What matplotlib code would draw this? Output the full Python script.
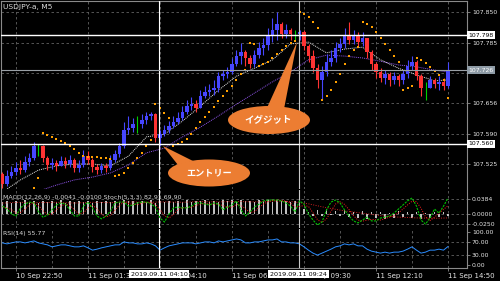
import matplotlib
matplotlib.use("Agg")
import numpy as np
import matplotlib.pyplot as plt
from matplotlib.patches import Ellipse, Polygon
from matplotlib.transforms import blended_transform_factory

plt.rcParams['font.family'] = ['DejaVu Sans']

# USDJPY-a, 10 minute bars (10 Sep 22:20 .. 11 Sep 14:50)
bar_opens = [107.504, 107.482, 107.499, 107.508, 107.516, 107.512, 107.529, 107.538, 107.564, 107.564,
             107.538, 107.523, 107.527, 107.521, 107.531, 107.525, 107.534, 107.516, 107.523, 107.542,
             107.534, 107.519, 107.512, 107.521, 107.516, 107.534, 107.546, 107.564, 107.598, 107.602,
             107.611, 107.611, 107.619, 107.628, 107.632, 107.581, 107.589, 107.598, 107.606, 107.615,
             107.623, 107.636, 107.649, 107.653, 107.645, 107.671, 107.679, 107.683, 107.688, 107.713,
             107.718, 107.722, 107.739, 107.756, 107.765, 107.752, 107.739, 107.758, 107.773, 107.780,
             107.799, 107.812, 107.825, 107.803, 107.812, 107.803, 107.803, 107.808, 107.778, 107.756,
             107.730, 107.705, 107.722, 107.743, 107.752, 107.773, 107.782, 107.799, 107.790, 107.799,
             107.786, 107.795, 107.765, 107.739, 107.722, 107.709, 107.718, 107.705, 107.713, 107.705,
             107.718, 107.735, 107.743, 107.713, 107.688, 107.688, 107.705, 107.696, 107.701, 107.692]
bar_closes = [107.482, 107.499, 107.508, 107.516, 107.512, 107.529, 107.538, 107.564, 107.564, 107.538,
              107.523, 107.527, 107.521, 107.531, 107.525, 107.534, 107.516, 107.523, 107.542, 107.534,
              107.519, 107.512, 107.521, 107.516, 107.534, 107.546, 107.564, 107.598, 107.602, 107.611,
              107.611, 107.619, 107.628, 107.632, 107.581, 107.589, 107.598, 107.606, 107.615, 107.623,
              107.636, 107.649, 107.653, 107.645, 107.671, 107.679, 107.683, 107.688, 107.713, 107.718,
              107.722, 107.739, 107.756, 107.765, 107.752, 107.739, 107.758, 107.773, 107.780, 107.799,
              107.812, 107.825, 107.803, 107.812, 107.803, 107.803, 107.808, 107.778, 107.756, 107.730,
              107.705, 107.722, 107.743, 107.752, 107.773, 107.782, 107.799, 107.790, 107.799, 107.786,
              107.795, 107.765, 107.739, 107.722, 107.709, 107.718, 107.705, 107.713, 107.705, 107.718,
              107.735, 107.743, 107.713, 107.688, 107.688, 107.705, 107.696, 107.701, 107.692, 107.726]
bar_highs = [107.508, 107.512, 107.521, 107.529, 107.534, 107.542, 107.549, 107.572, 107.568, 107.566,
             107.542, 107.538, 107.534, 107.542, 107.540, 107.544, 107.538, 107.534, 107.555, 107.553,
             107.538, 107.525, 107.527, 107.527, 107.544, 107.555, 107.570, 107.615, 107.628, 107.623,
             107.628, 107.632, 107.636, 107.636, 107.634, 107.598, 107.608, 107.617, 107.628, 107.636,
             107.649, 107.662, 107.668, 107.662, 107.683, 107.692, 107.696, 107.705, 107.722, 107.726,
             107.733, 107.752, 107.769, 107.784, 107.769, 107.758, 107.769, 107.786, 107.795, 107.816,
             107.837, 107.850, 107.829, 107.825, 107.816, 107.812, 107.812, 107.812, 107.782, 107.769,
             107.739, 107.735, 107.760, 107.769, 107.786, 107.795, 107.816, 107.829, 107.812, 107.808,
             107.808, 107.795, 107.769, 107.743, 107.730, 107.726, 107.722, 107.722, 107.718, 107.726,
             107.748, 107.756, 107.748, 107.718, 107.701, 107.713, 107.709, 107.713, 107.709, 107.743]
bar_lows = [107.474, 107.478, 107.495, 107.501, 107.504, 107.508, 107.521, 107.534, 107.542, 107.529,
            107.512, 107.514, 107.510, 107.521, 107.516, 107.519, 107.508, 107.508, 107.519, 107.525,
            107.508, 107.504, 107.506, 107.508, 107.512, 107.529, 107.540, 107.559, 107.589, 107.594,
            107.591, 107.602, 107.611, 107.619, 107.572, 107.564, 107.585, 107.591, 107.602, 107.611,
            107.619, 107.632, 107.641, 107.636, 107.645, 107.666, 107.671, 107.673, 107.679, 107.705,
            107.709, 107.718, 107.735, 107.739, 107.735, 107.730, 107.733, 107.752, 107.758, 107.769,
            107.786, 107.790, 107.795, 107.795, 107.790, 107.790, 107.790, 107.769, 107.743, 107.722,
            107.688, 107.662, 107.713, 107.735, 107.743, 107.765, 107.773, 107.782, 107.782, 107.778,
            107.778, 107.752, 107.726, 107.709, 107.701, 107.696, 107.692, 107.696, 107.692, 107.696,
            107.709, 107.726, 107.705, 107.671, 107.662, 107.688, 107.688, 107.683, 107.683, 107.688]

# parabolic SAR dots
sar = [107.437, 107.442, 107.448, 107.452, 107.457, 107.461, 107.465, 107.474, 107.495, 107.591,
       107.587, 107.583, 107.579, 107.574, 107.570, 107.564, 107.557, 107.549, 107.542, 107.540,
       107.540, 107.540, 107.538, 107.538, 107.536, 107.499, 107.501, 107.506, 107.516, 107.527,
       107.538, 107.549, 107.564, 107.576, 107.653, 107.645, 107.634, 107.623, 107.564, 107.568,
       107.572, 107.579, 107.589, 107.602, 107.615, 107.626, 107.636, 107.647, 107.660, 107.671,
       107.681, 107.692, 107.705, 107.718, 107.726, 107.784, 107.782, 107.735, 107.739, 107.743,
       107.752, 107.760, 107.769, 107.778, 107.784, 107.788, 107.850, 107.846, 107.840, 107.829,
       107.816, 107.662, 107.671, 107.683, 107.701, 107.718, 107.739, 107.756, 107.769, 107.775,
       107.829, 107.825, 107.818, 107.808, 107.795, 107.782, 107.769, 107.756, 107.743, 107.683,
       107.688, 107.692, 107.752, 107.748, 107.741, 107.733, 107.724, 107.716, 107.705, 107.666]

# moving averages, read every 4 bars
ma_bars = [0, 4, 8, 12, 16, 20, 24, 28, 32, 36, 40, 44, 48, 52, 56, 60, 64, 68, 72, 76, 80, 84, 88, 92, 96, 99]
ma_fast = [107.465, 107.491, 107.512, 107.521, 107.525, 107.525, 107.521, 107.542, 107.583, 107.589,
           107.617, 107.649, 107.683, 107.713, 107.730, 107.748, 107.782, 107.786, 107.763, 107.771,
           107.775, 107.748, 107.730, 107.716, 107.703, 107.705]
ma_slow = [107.448, 107.457, 107.467, 107.480, 107.491, 107.497, 107.506, 107.523, 107.549, 107.559,
           107.583, 107.604, 107.628, 107.653, 107.677, 107.701, 107.722, 107.748, 107.758, 107.756,
           107.752, 107.745, 107.737, 107.733, 107.726, 107.722]

# MACD(12,26,9): histogram per bar, signal every 4 bars
macd_hist = [0.030, 0.034, 0.028, 0.032, 0.030, 0.035, 0.031, 0.033, 0.029, 0.034,
             0.030, 0.033, 0.031, 0.035, 0.029, 0.032, 0.030, 0.034, 0.031, 0.033,
             0.029, 0.032, 0.030, 0.034, 0.031, 0.033, 0.030, 0.035, 0.032, 0.034,
             0.030, 0.033, 0.031, 0.035, 0.029, 0.032, 0.030, 0.034, 0.031, 0.033,
             0.030, 0.035, 0.031, 0.034, 0.032, 0.036, 0.030, 0.034, 0.031, 0.035,
             0.033, 0.036, 0.031, 0.035, 0.032, 0.034, 0.030, 0.035, 0.033, 0.036,
             0.031, 0.035, 0.032, 0.034, 0.030, 0.033, 0.020, 0.012, 0.004, -0.006,
             0.010, -0.004, 0.012, -0.002, 0.008, -0.006, 0.010, -0.008, 0.006, -0.010,
             0.008, -0.012, 0.004, -0.010, 0.006, -0.012, 0.002, -0.010, 0.008, -0.008,
             0.006, -0.010, 0.004, -0.012, 0.002, -0.010, 0.006, -0.008, 0.004, -0.004]
macd_signal = [0.028, 0.030, 0.029, 0.030, 0.028, 0.030, 0.029, 0.031, 0.030, 0.031, 0.030, 0.032, 0.031,
               0.032, 0.031, 0.033, 0.032, 0.026, 0.016, 0.008, 0.002, -0.004, -0.008, -0.010, -0.011, -0.010]

# Stoch(5,3,3) main and signal
stoch_main = [72, 62, 45, 38, 66, 79, 86, 83, 52, 34, 41, 59, 76, 83, 79, 59, 38, 38, 72, 86,
              66, 38, 28, 38, 55, 83, 86, 86, 72, 76, 83, 86, 86, 79, 69, 31, 17, 45, 66, 69,
              66, 66, 72, 83, 83, 79, 76, 83, 79, 59, 69, 76, 90, 59, 38, 52, 69, 79, 90, 93,
              93, 93, 90, 83, 72, 52, 90, 79, 45, 24, 7, 17, 59, 86, 93, 83, 59, 38, 21, 14,
              24, 34, 21, 21, 31, 34, 38, 48, 62, 76, 90, 100, 72, 24, 10, 31, 62, 48, 72, 100]
stoch_signal = [70, 66, 60, 48, 50, 61, 77, 83, 74, 56, 42, 45, 59, 73, 79, 74, 59, 45, 49, 65,
                75, 63, 44, 35, 40, 59, 75, 85, 81, 78, 77, 82, 85, 84, 78, 60, 39, 31, 43, 60,
                67, 67, 68, 74, 79, 82, 79, 79, 79, 74, 69, 68, 78, 75, 62, 50, 53, 67, 79, 87,
                92, 93, 92, 89, 82, 69, 71, 74, 71, 49, 25, 16, 28, 54, 79, 87, 78, 60, 39, 24,
                20, 24, 26, 25, 24, 29, 34, 40, 49, 62, 76, 89, 87, 65, 35, 22, 34, 47, 61, 73]

# RSI(14)
rsi = [67, 64, 67, 70, 70, 67, 70, 73, 67, 64, 61, 55, 58, 61, 61, 58, 55, 55, 58, 52,
       45, 48, 52, 55, 58, 61, 61, 70, 67, 67, 64, 64, 67, 64, 58, 45, 52, 58, 61, 64,
       67, 67, 67, 64, 67, 70, 70, 67, 73, 70, 73, 76, 79, 76, 67, 67, 70, 70, 73, 76,
       76, 79, 70, 70, 67, 67, 64, 55, 45, 36, 30, 36, 42, 48, 55, 58, 64, 61, 64, 58,
       58, 48, 42, 39, 36, 39, 36, 39, 39, 42, 48, 55, 45, 36, 39, 45, 45, 48, 45, 56]

time_ticks = [3, 19, 35, 51, 67, 83, 99]
time_labels = ['10 Sep 22:50', '11 Sep 01:30', '11 Sep 04:10', '11 Sep 06:50',
               '11 Sep 09:30', '11 Sep 12:10', '11 Sep 14:50']
price_ticks = [107.850, 107.785, 107.720, 107.656, 107.590, 107.525]
cross_bars = [34.78, 65.78]
cross_labels = ['2019.09.11 04:10', '2019.09.11 09:24']

x = np.arange(len(bar_closes))
o = np.array(bar_opens)
c = np.array(bar_closes)
colors = ['#00d000' if np.isclose(a, b) else ('#4646ff' if b > a else '#ff3333')
          for a, b in zip(o, c)]

W, H = 500, 281
fig = plt.figure(figsize=(5, 2.81), dpi=100, facecolor='black')


def rect(x0, y0, x1, y1):
    return [x0 / W, 1 - y1 / H, (x1 - x0) / W, (y1 - y0) / H]


ax = fig.add_axes(rect(1, 1, 467, 189))
ax_m = fig.add_axes(rect(1, 190, 467, 228), sharex=ax)
ax_r = fig.add_axes(rect(1, 229, 467, 268), sharex=ax)
ax_s = ax_m.twinx()

grid_kw = dict(color='#626262', ls=(0, (3, 3)), lw=0.6)
frame = '#8a8a8a'
for a in (ax, ax_m, ax_r):
    a.set_facecolor('black')
    for s in a.spines.values():
        s.set_color(frame)
        s.set_linewidth(0.8)
    a.yaxis.tick_right()
    a.yaxis.set_label_position('right')
    a.tick_params(axis='y', length=2.5, width=0.6, color=frame, labelsize=4.4,
                  labelcolor='#e6e6e6', pad=1)
    a.set_xticks(range(-5, 104, 8))
    a.grid(axis='x', **grid_kw)
    a.set_axisbelow(True)
    for cx, col in zip(cross_bars, ['white', '#c8c8c8']):
        a.axvline(cx, color=col, lw=0.8, zorder=6)
ax.spines['bottom'].set_visible(False)
ax_m.spines['top'].set_visible(False)
ax_m.spines['bottom'].set_visible(False)
ax_r.spines['top'].set_visible(False)
ax.tick_params(axis='x', bottom=False, labelbottom=False)
ax_m.tick_params(axis='x', bottom=False, labelbottom=False)

# ---- main price window ----
ax.set_yticks(price_ticks)
ax.set_yticklabels(['%.3f' % p if p != 107.720 else '' for p in price_ticks])
ax.grid(axis='y', **grid_kw)

ax.plot(ma_bars, ma_slow, color='#8f55ea', lw=0.7, ls=(0, (1, 1)), zorder=2)
ax.plot(ma_bars, ma_fast, color='#e8e8e8', lw=0.7, ls=(0, (1, 1)), zorder=2)
ax.vlines(x, bar_lows, bar_highs, colors=colors, lw=0.8, zorder=3)
ax.bar(x, c - o, bottom=o, width=0.75, color=colors, linewidth=0, zorder=3)
ax.scatter(x, sar, s=1.6, color='#ffa000', marker='s', linewidths=0, zorder=4)

ax.axhline(107.801, color='white', lw=1.0, zorder=6)
ax.axhline(107.726, color='#9aa0a6', lw=0.8, zorder=6)
ax.axhline(107.568, color='white', lw=1.0, zorder=6)

tr = blended_transform_factory(ax.transAxes, ax.transData)
for yv, txt, fc, tc in [(107.801, '107.798', 'white', 'black'),
                        (107.726, '107.726', '#8e9ba6', 'white'),
                        (107.568, '107.560', 'white', 'black')]:
    ax.text(1.003, yv, txt, transform=tr, fontsize=4.4, color=tc, va='center', ha='left',
            bbox=dict(boxstyle='square,pad=0.3', fc=fc, ec='none'), clip_on=False, zorder=10)

# ---- MACD + Stoch window ----
ax_m.set_yticks([0.0384, 0.0, -0.025])
ax_m.set_yticklabels(['0.0384', '0.0000', '-0.0250'])
ax_m.grid(axis='y', **grid_kw)
ax_m.bar(x, macd_hist, width=0.3, color='#c0c0c0', linewidth=0, zorder=2)
ax_m.plot(ma_bars, macd_signal, color='#d02020', lw=0.7, ls=(0, (1, 1.5)), zorder=3)

ax_s.set_yticks([])
for s in ax_s.spines.values():
    s.set_visible(False)
ax_s.patch.set_visible(False)
ax_s.plot(x, stoch_signal, color='#ff2020', lw=0.7, ls=(0, (1, 1.5)), zorder=3)
ax_s.plot(x, stoch_main, color='#00c000', lw=0.8, ls=(0, (2, 1)), zorder=4)

# ---- RSI window ----
ax_r.set_yticks([100, 70, 30, 0])
ax_r.set_yticklabels(['100.00', '70.00', '30.00', '0.00'])
for lv in (70, 30):
    ax_r.axhline(lv, **grid_kw)
ax_r.plot(x, rsi, color='#2a8cff', lw=0.7, zorder=3)
ax_r.set_xticks(time_ticks)
ax_r.set_xticklabels(time_labels, ha='left')
ax_r.tick_params(axis='x', length=2.5, width=0.6, color=frame, labelsize=5.0,
                 labelcolor='#e6e6e6', pad=1)
ax_r.set_xticks(range(-5, 104, 8), minor=True)
ax_r.grid(axis='x', which='minor', **grid_kw)
ax_r.tick_params(axis='x', which='minor', length=0)

trx = blended_transform_factory(ax_r.transData, ax_r.transAxes)
for cx, txt in zip(cross_bars, cross_labels):
    ax_r.text(cx, -0.155, txt, transform=trx, fontsize=4.6, color='black', ha='center',
              va='center', bbox=dict(boxstyle='square,pad=0.25', fc='white', ec='none'),
              clip_on=False, zorder=10)

# limits last, after all plotting (shared/twin axes autoscale otherwise)
ax.set_xlim(-0.333, 103.222)
ax.set_ylim(107.4715, 107.8739)
ax_m.set_ylim(-0.0358, 0.0614)
ax_s.set_ylim(-3.45, 127.6)
ax_r.set_ylim(-9.1, 109.1)

# ---- overlay: window captions and callouts ----
ov = fig.add_axes([0, 0, 1, 1])
ov.set_xlim(0, W)
ov.set_ylim(H, 0)
ov.axis('off')
ov.patch.set_alpha(0)

ov.text(3, 7, 'USDJPY-a, M5', fontsize=5.4, color='#d8d8d8', va='center', ha='left')
ov.text(3, 197, 'MACD(12,26,9) -0.0041 -0.0100 Stoch(5,3,3) 82.91 69.90', fontsize=4.5,
        color='#d8d8d8', va='center', ha='left')
ov.text(3, 233, 'RSI(14) 55.77', fontsize=4.5, color='#d8d8d8', va='center', ha='left')

orange = '#ec7d32'
jp = ['Noto Sans CJK JP', 'DejaVu Sans']
ov.add_patch(Polygon([(178, 165), (193, 161), (163, 146)], closed=True, fc=orange, ec='none', zorder=8))
ov.add_patch(Ellipse((209, 173), 82, 27, fc=orange, ec='none', zorder=8))
ov.text(209, 173, 'エントリー', family=jp, fontsize=6.6, fontweight='bold', color='white',
        ha='center', va='center', zorder=9)
ov.add_patch(Polygon([(266, 110), (284, 109), (297, 42)], closed=True, fc=orange, ec='none', zorder=8))
ov.add_patch(Ellipse((269, 120), 82, 28, fc=orange, ec='none', zorder=8))
ov.text(268, 120, 'イグジット', family=jp, fontsize=6.8, fontweight='bold', color='white',
        ha='center', va='center', zorder=9)

fig.savefig('out.png', dpi=100, facecolor='black')
